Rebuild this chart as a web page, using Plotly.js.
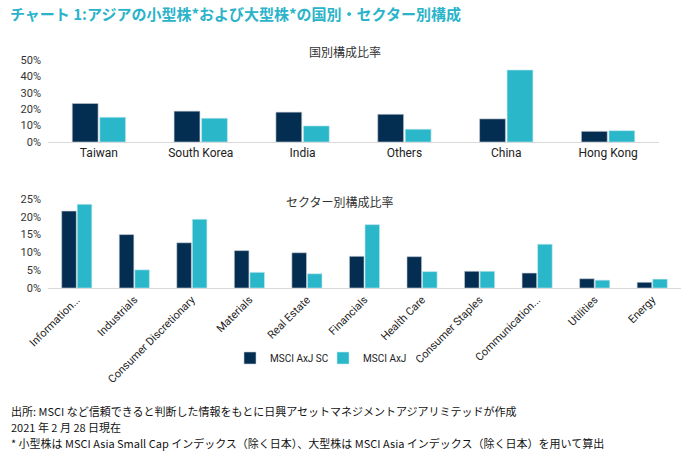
<!DOCTYPE html>
<html><head><meta charset="utf-8">
<script src="https://cdn.plot.ly/plotly-3.0.1.min.js"></script>
<style>html,body{margin:0;padding:0;background:#fff}#c{width:688px;height:464px}</style>
</head><body><div id="c"></div>
<script>
const countries = ["Taiwan","South Korea","India","Others","China","Hong Kong"];
const countrySC = [23.5,18.8,18.2,16.9,14.1,6.5];
const countryAxJ = [15.1,14.5,9.8,7.8,43.9,6.9];
const sectors = ["Information Technology","Industrials","Consumer Discretionary","Materials","Real Estate","Financials","Health Care","Consumer Staples","Communication Services","Utilities","Energy"];
const sectorLabels = ["Information...","Industrials","Consumer Discretionary","Materials","Real Estate","Financials","Health Care","Consumer Staples","Communication...","Utilities","Energy"];
const sectorSC = [21.6,15.0,12.7,10.5,9.9,8.9,8.8,4.7,4.2,2.6,1.6];
const sectorAxJ = [23.5,5.1,19.3,4.4,4.0,17.8,4.6,4.7,12.3,2.2,2.5];
const topTicks = [0,10,20,30,40,50];
const topTickLabels = ["0%","10%","20%","30%","40%","50%"];
const botTicks = [0,5,10,15,20,25];
const botTickLabels = ["0%","5%","10%","15%","20%","25%"];
const seriesNames = ["MSCI AxJ SC","MSCI AxJ"];

const navy = "#042d52", teal = "#2ab7c9";
const W=688,H=464;
const fx = p => p/W, fy = p => 1 - p/H;
const latin = "Roboto, sans-serif";
const jp = "Noto Sans CJK JP, sans-serif";

const traces = [
 {type:"bar", x:countries, y:countrySC, name:seriesNames[0], marker:{color:navy, line:{color:"#c8cdd3", width:0.6}}, xaxis:"x", yaxis:"y", showlegend:false},
 {type:"bar", x:countries, y:countryAxJ, name:seriesNames[1], marker:{color:teal, line:{color:"#c8e9ee", width:0.6}}, xaxis:"x", yaxis:"y", showlegend:false},
 {type:"bar", x:sectors, y:sectorSC, name:seriesNames[0], marker:{color:navy, line:{color:"#c8cdd3", width:0.6}}, xaxis:"x2", yaxis:"y2"},
 {type:"bar", x:sectors, y:sectorAxJ, name:seriesNames[1], marker:{color:teal, line:{color:"#c8e9ee", width:0.6}}, xaxis:"x2", yaxis:"y2"}
];

const axisFont = {family:latin, size:11, color:"#333"};
const layout = {
 width:W, height:H, margin:{l:0,r:0,t:0,b:0},
 paper_bgcolor:"#fff", plot_bgcolor:"#fff",
 barmode:"group", bargap:0.46, bargroupgap:0.06,
 xaxis:{domain:[fx(48),fx(659)], anchor:"y", showline:true, linecolor:"#d9d9d9", linewidth:1, ticks:"", tickfont:{family:latin,size:12,color:"#222"}},
 yaxis:{domain:[fy(142),fy(60)], anchor:"x", range:[0,50], tickvals:topTicks, ticktext:topTickLabels, showgrid:false, zeroline:false, ticks:"", ticklabelstandoff:6, tickfont:axisFont},
 xaxis2:{domain:[fx(48),fx(681)], anchor:"y2", showline:true, linecolor:"#d9d9d9", linewidth:1, ticks:"", tickangle:-45, tickvals:sectors, ticktext:sectorLabels, tickfont:{family:latin,size:11,color:"#222"}},
 yaxis2:{domain:[fy(288),fy(199)], anchor:"x2", range:[0,25], tickvals:botTicks, ticktext:botTickLabels, showgrid:false, zeroline:false, ticks:"", ticklabelstandoff:6, tickfont:axisFont},
 legend:{orientation:"h", x:fx(230), xanchor:"left", y:fy(358), yanchor:"middle", font:{family:latin,size:10,color:"#222"}, itemwidth:30, tracegroupgap:0, entrywidth:48, entrywidthmode:"pixels"},
 annotations:[
  {xref:"paper",yref:"paper",x:fx(8),y:fy(14),xanchor:"left",yanchor:"middle",showarrow:false,text:"<b>チャート 1:アジアの小型株*および大型株*の国別・セクター別構成</b>",font:{family:jp,size:15,color:"#2ab3c9"}},
  {xref:"paper",yref:"paper",x:fx(345),y:fy(52),xanchor:"center",yanchor:"middle",showarrow:false,text:"国別構成比率",font:{family:jp,size:12,color:"#333"}},
  {xref:"paper",yref:"paper",x:fx(340),y:fy(201),xanchor:"center",yanchor:"middle",showarrow:false,text:"セクター別構成比率",font:{family:jp,size:12,color:"#333"}},
  {xref:"paper",yref:"paper",x:fx(9),y:fy(411),xanchor:"left",yanchor:"middle",showarrow:false,text:"出所: MSCI など信頼できると判断した情報をもとに日興アセットマネジメントアジアリミテッドが作成",font:{family:jp,size:11,color:"#111"}},
  {xref:"paper",yref:"paper",x:fx(9),y:fy(427),xanchor:"left",yanchor:"middle",showarrow:false,text:"2021 年 2 月 28 日現在",font:{family:jp,size:11,color:"#111"}},
  {xref:"paper",yref:"paper",x:fx(9),y:fy(443),xanchor:"left",yanchor:"middle",showarrow:false,text:"* 小型株は MSCI Asia Small Cap インデックス（除く日本）、大型株は MSCI Asia インデックス（除く日本）を用いて算出",font:{family:jp,size:11,color:"#111"}}
 ]
};
Plotly.newPlot("c", traces, layout, {staticPlot:true});
</script></body></html>
